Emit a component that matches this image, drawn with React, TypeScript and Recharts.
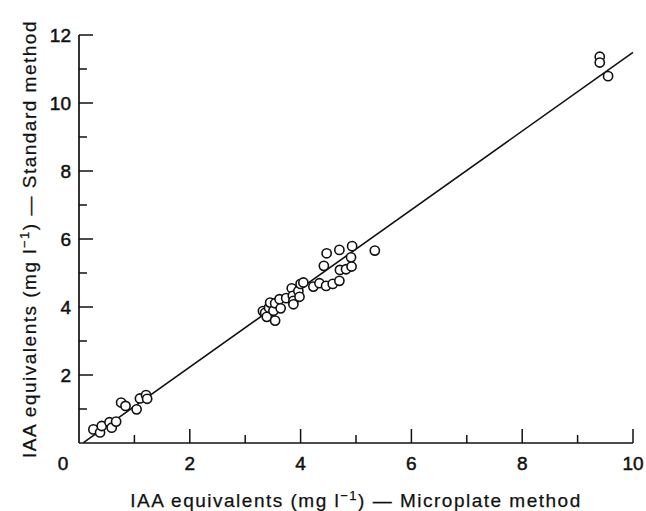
import React from 'react';
import { ScatterChart, Scatter, XAxis, YAxis, Label } from 'recharts';

// IAA equivalents (mg l-1)
const microplate = [
  0.26, 0.38, 0.41, 0.55, 0.59, 0.67, 0.76, 0.84, 1.04, 1.1, 1.21, 1.23,
  3.32, 3.36, 3.39, 3.43, 3.45, 3.51, 3.54, 3.54, 3.62, 3.64, 3.74,
  3.84, 3.86, 3.87, 3.87, 3.96, 3.98, 4.0, 4.05,
  4.23, 4.34, 4.42, 4.46, 4.47, 4.58, 4.7, 4.7, 4.71, 4.82, 4.91, 4.92, 4.93, 5.34,
  9.4, 9.4, 9.55,
];
const standard = [
  0.4, 0.31, 0.5, 0.61, 0.45, 0.63, 1.19, 1.09, 0.99, 1.31, 1.41, 1.3,
  3.88, 3.83, 3.71, 3.98, 4.13, 3.89, 4.11, 3.6, 4.23, 3.96, 4.26,
  4.55, 4.33, 4.18, 4.08, 4.47, 4.3, 4.68, 4.72,
  4.6, 4.7, 5.21, 4.62, 5.58, 4.68, 5.68, 4.77, 5.09, 5.11, 5.46, 5.19, 5.79, 5.66,
  11.36, 11.19, 10.79,
];

// regression line end points
const fitX = [0.08, 10];
const fitY = [0.01, 11.49];

const xTicks = [0, 1, 2, 3, 4, 5, 6, 7, 8, 9, 10];
const yTicks = [0, 1, 2, 3, 4, 5, 6, 7, 8, 9, 10, 11, 12];

const points = microplate.map((x, i) => ({ x, y: standard[i] }));
const fitData = fitX.map((x, i) => ({ x, y: fitY[i] }));

const ink = '#111';
const font = '"Liberation Sans", Arial, sans-serif';

const XTick = (props: any) => {
  const { x, y, payload } = props;
  const v = payload.value;
  const major = v % 2 === 0;
  return (
    <g>
      {v > 0 && <line x1={x} x2={x} y1={y} y2={y - (major ? 14 : 8)} stroke={ink} strokeWidth={1.5} />}
      {major && (
        <text x={v === 0 ? x - 16 : x} y={y + 27} textAnchor="middle" fontSize={19} fontFamily={font} fill={ink} stroke={ink} strokeWidth={0.5}>
          {v}
        </text>
      )}
    </g>
  );
};

const YTick = (props: any) => {
  const { x, y, payload } = props;
  const v = payload.value;
  const major = v % 2 === 0;
  if (v === 0) return <g />;
  return (
    <g>
      <line x1={x} x2={x + (major ? 14 : 8)} y1={y} y2={y} stroke={ink} strokeWidth={1.5} />
      {major && (
        <text x={x - 8} y={y} dy="0.36em" textAnchor="end" fontSize={19} fontFamily={font} fill={ink} stroke={ink} strokeWidth={0.5}>
          {v}
        </text>
      )}
    </g>
  );
};

const Dot = (p: any) => <circle cx={p.cx} cy={p.cy} r={4.6} fill="#fff" stroke={ink} strokeWidth={1.6} />;

export default function App() {
  return (
    <div style={{ position: 'absolute', left: 0, top: 0, background: '#fff' }}>
      <ScatterChart width={646} height={511} margin={{ top: 35, right: 13, bottom: 0, left: 0 }}>
        <XAxis
          type="number"
          dataKey="x"
          domain={[0, 10]}
          ticks={xTicks}
          interval={0}
          height={68}
          tickSize={0}
          tickMargin={0}
          tickLine={false}
          axisLine={{ stroke: ink, strokeWidth: 1.7 }}
          tick={<XTick />}
        >
          <Label
            content={(p: any) => {
              const vb = p.viewBox;
              return (
                <text x={vb.x + vb.width / 2} y={vb.y + 64} textAnchor="middle" fontSize={19} fontFamily={font} fill={ink} stroke={ink} strokeWidth={0.25} letterSpacing={1.5}>
                  IAA equivalents (mg l<tspan dy={-7} fontSize={13}>−1</tspan><tspan dy={7}>) — Microplate method</tspan>
                </text>
              );
            }}
          />
        </XAxis>
        <YAxis
          type="number"
          dataKey="y"
          domain={[0, 12]}
          ticks={yTicks}
          interval={0}
          width={79}
          tickSize={0}
          tickMargin={0}
          tickLine={false}
          axisLine={{ stroke: ink, strokeWidth: 1.7 }}
          tick={<YTick />}
        >
          <Label
            content={(p: any) => {
              const vb = p.viewBox;
              const cx = 36;
              const cy = vb.y + vb.height / 2;
              return (
                <text x={cx} y={cy} transform={`rotate(-90 ${cx} ${cy})`} textAnchor="middle" fontSize={19} fontFamily={font} fill={ink} stroke={ink} strokeWidth={0.25} letterSpacing={1.5}>
                  IAA equivalents (mg l<tspan dy={-7} fontSize={13}>−1</tspan><tspan dy={7}>) — Standard method</tspan>
                </text>
              );
            }}
          />
        </YAxis>
        <Scatter data={fitData} line={{ stroke: ink, strokeWidth: 1.6 }} shape={() => <g />} isAnimationActive={false} />
        <Scatter data={points} shape={<Dot />} isAnimationActive={false} />
      </ScatterChart>
    </div>
  );
}
